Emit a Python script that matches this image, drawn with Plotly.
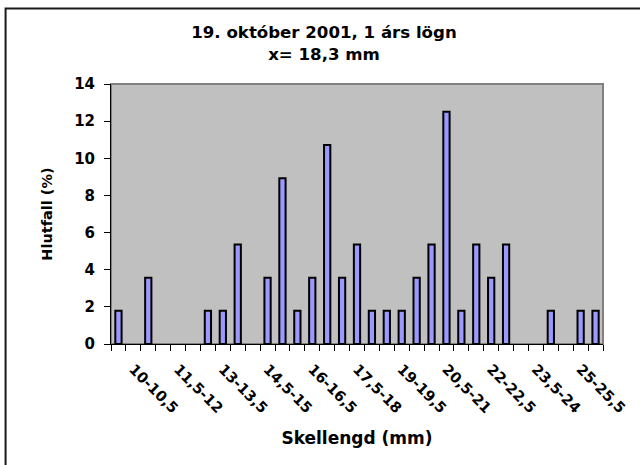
import plotly.graph_objects as go

categories = ["9,5-10", "10-10,5", "10,5-11", "11-11,5", "11,5-12", "12-12,5", "12,5-13",
              "13-13,5", "13,5-14", "14-14,5", "14,5-15", "15-15,5", "15,5-16", "16-16,5",
              "16,5-17", "17-17,5", "17,5-18", "18-18,5", "18,5-19", "19-19,5", "19,5-20",
              "20-20,5", "20,5-21", "21-21,5", "21,5-22", "22-22,5", "22,5-23", "23-23,5",
              "23,5-24", "24-24,5", "24,5-25", "25-25,5", "25,5-26"]
values = [1.79, 0, 3.57, 0, 0, 0, 1.79, 1.79, 5.36, 0, 3.57, 8.93, 1.79, 3.57, 10.71,
          3.57, 5.36, 1.79, 1.79, 1.79, 3.57, 5.36, 12.5, 1.79, 5.36, 3.57, 5.36, 0, 0,
          1.79, 0, 1.79, 1.79]
shown_labels = categories[1::3]
tick_text = [c if c in shown_labels else "" for c in categories]
bar_values = [v if v > 0 else None for v in values]

FONT = "DejaVu Sans"

fig = go.Figure(go.Bar(
    x=categories, y=bar_values,
    width=0.42,
    marker=dict(color="#9999FF", line=dict(color="black", width=2)),
))

L, R, T, B = 111, 32, 84, 121
W, H = 640, 465
pw, ph = W - L - R, H - T - B

def px(p):
    return (p - L) / pw

def py(p):
    return (H - B - p) / ph

fig.update_layout(
    width=W, height=H,
    margin=dict(l=L, r=R, t=T, b=B),
    paper_bgcolor="white", plot_bgcolor="#C0C0C0",
    showlegend=False,
    font=dict(family=FONT, size=15, color="black", weight="bold"),
    title=dict(text="19. október 2001, 1 árs lögn<br>x= 18,3 mm",
               x=324 / W, xanchor="center", y=1 - 38 / H, yanchor="top",
               font=dict(size=16.6, family=FONT, weight="bold")),
    xaxis=dict(
        type="category",
        tickmode="array", tickvals=categories, ticktext=tick_text,
        tickson="boundaries", ticks="outside", ticklen=6, tickcolor="black",
        tickangle=45, showline=True, linecolor="black", linewidth=1,
        showgrid=False, range=[-0.5, len(categories) - 0.5],
        ticklabelstandoff=10,
        tickfont=dict(size=14.5, family=FONT, weight="bold"),
        title=dict(text="Skellengd (mm)", standoff=16,
                   font=dict(size=17, family=FONT, weight="bold")),
    ),
    yaxis=dict(
        range=[0, 14], dtick=2, ticks="outside", ticklen=6, tickcolor="black",
        showline=True, linecolor="black", linewidth=1, showgrid=False,
        zeroline=False, ticklabelstandoff=6,
        tickfont=dict(size=15, family=FONT, weight="bold"),
        title=dict(text="Hlutfall (%)", standoff=18,
                   font=dict(size=14.5, family=FONT, weight="bold")),
    ),
    shapes=[
        dict(type="rect", xref="paper", yref="paper", x0=0, x1=1, y0=0, y1=1,
             line=dict(color="#808080", width=2), layer="below"),
        dict(type="rect", xref="paper", yref="paper",
             x0=px(4.5), x1=px(660), y0=py(8.5), y1=py(480),
             line=dict(color="#1a1a1a", width=2), layer="above"),
    ],
)

fig.write_html("out.html", config={"displayModeBar": False},
               post_script="document.body.style.margin='0';")
